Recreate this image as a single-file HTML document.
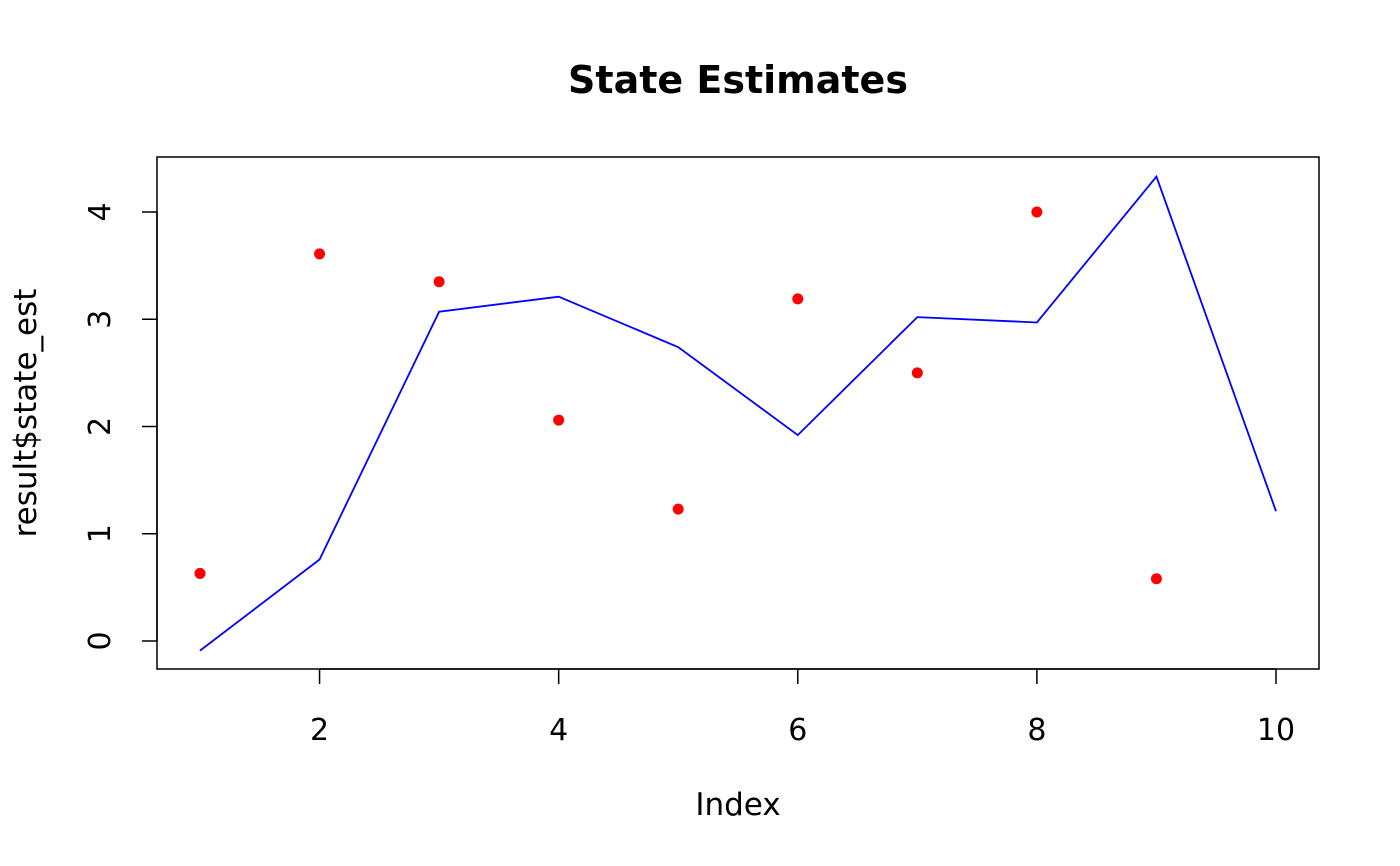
<!DOCTYPE html>
<html><head><meta charset="utf-8"><style>
html,body{margin:0;padding:0;background:#fff;}
svg{display:block;font-family:"DejaVu Sans","Liberation Sans",sans-serif;}
</style></head><body>
<svg id="chart" width="1400" height="866">
<text x="738" y="93" text-anchor="middle" font-size="38" font-weight="bold">State Estimates</text>
<rect x="157" y="157" width="1162" height="512" fill="none" stroke="#000" stroke-width="1.5"/>
<text x="738" y="815" text-anchor="middle" font-size="31">Index</text>
<text transform="translate(36,413) rotate(-90)" text-anchor="middle" font-size="31">result$state_est</text>
<g id="axes"></g>
<g id="marks"></g>
</svg>
<script>
const xTicks=[2,4,6,8,10];
const yTicks=[0,1,2,3,4];
const lineValues=[-0.09,0.76,3.07,3.21,2.74,1.92,3.02,2.97,4.33,1.21];
const pointValues=[0.63,3.61,3.35,2.06,1.23,3.19,2.50,4.00,0.58,null];
const NS="http://www.w3.org/2000/svg";
const sx=v=>200+(v-1)*(1276-200)/9;
const sy=v=>641-v*(641-212)/4;
const axes=document.getElementById('axes'),marks=document.getElementById('marks');
function mk(t,a,p){const e=document.createElementNS(NS,t);for(const k in a)e.setAttribute(k,a[k]);p.appendChild(e);return e;}
mk('line',{x1:sx(xTicks[0]),x2:sx(xTicks[xTicks.length-1]),y1:669,y2:669,stroke:'#000','stroke-width':1.5},axes);
xTicks.forEach(t=>{
 const l=mk('line',{x1:sx(t),x2:sx(t),y1:669,y2:684,stroke:'#000','stroke-width':1.5},axes);
 
 
 const tx=mk('text',{x:sx(t),y:740,'text-anchor':'middle','font-size':30},axes);tx.textContent=t;
 
 
});
mk('line',{x1:157,x2:157,y1:sy(yTicks[0]),y2:sy(yTicks[yTicks.length-1]),stroke:'#000','stroke-width':1.5},axes);
yTicks.forEach(t=>{
 const l=mk('line',{x1:142,x2:157,y1:sy(t),y2:sy(t),stroke:'#000','stroke-width':1.5},axes);
 
 
 const tx=mk('text',{transform:`translate(110,${sy(t)}) rotate(-90)`,'text-anchor':'middle','font-size':30},axes);tx.textContent=t;
 
 
});
const pl=mk('polyline',{points:lineValues.map((v,i)=>sx(i+1)+','+sy(v)).join(' '),fill:'none',stroke:'#0000ff','stroke-width':1.8},marks);


pointValues.forEach((v,i)=>{
 if(v===null)return;
 const c=mk('circle',{cx:sx(i+1),cy:sy(v),r:5.5,fill:'#ff0000'},marks);
 
 
});
</script>
</body></html>
